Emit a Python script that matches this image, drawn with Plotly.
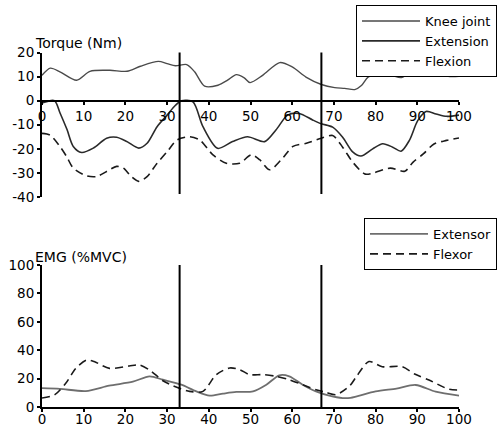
import plotly.graph_objects as go

# ---------------- data ----------------
knee_x = [0, 2, 4.3, 8.3, 11.5, 16.3, 20.4, 23.6, 27.9, 30, 32, 34.7, 36.6, 39, 42.2, 44.5, 46.6, 48.5, 49.9,
          52.9, 57, 60, 63.3, 67, 70.2, 72.6, 75, 76.6, 78.2, 80.6, 83.8, 86.2, 89.4, 91.4, 94.2, 97.4, 100]
knee_y = [10.5, 13.5, 12, 8.5, 12.2, 12.6, 12.2, 14.3, 16.3, 15.4, 14.5, 15, 12, 6, 6.4, 8.5, 10.8, 9.5, 7.5,
          10.5, 15.8, 14, 9.8, 6.7, 5.4, 5.1, 4.6, 6.3, 9.8, 11, 10.5, 9.6, 13.3, 15.4, 11.9, 10.1, 10.1]

ext_x = [0, 3, 4.3, 6, 7.5, 9.5, 12.3, 15.5, 17.9, 20.4, 23.2, 25.2, 27.6, 30, 32, 33.4, 36.2, 38.6, 42.1,
         45.7, 49.3, 53.4, 56.1, 58.9, 61.7, 64.9, 67, 69.7, 72.1, 74.5, 76.5, 79.3, 81.7, 84.1, 86.1, 88.1,
         90.1, 92.1, 94.5, 97, 100]
ext_y = [-1, 0, -5, -12, -19, -21.5, -19.7, -15.6, -15.2, -17, -19.7, -17.7, -10.8, -6, -1.9, 0, -0.5, -10.8,
         -19.8, -17, -15, -17, -12.2, -6, -5.3, -8, -9.6, -11, -15.2, -21.3, -23, -20, -17.9, -19.3, -21, -16.5,
         -8.3, -4.5, -5.5, -6.5, -6]

flex_x = [0, 1.9, 4.3, 5.9, 7.5, 10.7, 13.1, 15.5, 17.9, 19.5, 21.4, 23.2, 25.2, 27.6, 30, 32.4, 35.4, 37.8,
          41, 44.2, 47.4, 50.2, 52.2, 54.6, 57.4, 60.2, 63.4, 67, 69.7, 72.1, 74.5, 77.5, 79.5, 83.5, 87, 89,
          91.5, 94, 97, 100]
flex_y = [-13.6, -14.3, -19, -23.2, -28, -31.2, -31.5, -29.4, -27.3, -28, -31.5, -33.5, -31.5, -26, -21.2,
          -16.3, -15, -16.3, -22.5, -26, -26, -22.5, -24.5, -28.7, -24.5, -19, -17.7, -15.6, -14.5, -19.3,
          -25.5, -30.5, -30, -28, -29.3, -25.5, -22, -18, -16.5, -15.5]

emg_ext_x = [0, 4.3, 10.5, 16.1, 21.8, 25.8, 29, 33.4, 37, 40.2, 43.4, 46.6, 50.6, 53.8, 56.9, 59.3, 62.5,
             65.7, 68.9, 72.1, 74, 80, 85, 89.6, 94.4, 100]
emg_ext_y = [13.3, 12.8, 11.2, 15, 17.8, 21.6, 19.2, 15.7, 11, 8, 9.4, 10.6, 11, 15.7, 22.3, 21.6, 15.7,
             11, 8, 6.3, 6.5, 11, 13, 15.5, 10.8, 8]

emg_flex_x = [0, 3, 5.7, 8.1, 10.7, 12.5, 16.2, 20.9, 23.3, 25.8, 29, 31.4, 35.4, 38.6, 41.8, 45, 47.4,
              49.8, 53, 56.1, 59.3, 62.5, 65.7, 68.1, 70.5, 73.7, 75.3, 78.4, 81.6, 86.3, 89.5, 92.8, 97.6, 100]
emg_flex_y = [6.3, 8.5, 16.7, 27.2, 33, 32, 27.2, 28.9, 29.6, 26, 18.5, 15, 11, 11, 22.8, 27.5, 26.3,
              22.8, 22.8, 21.6, 19.2, 15.7, 12.2, 10.3, 8.7, 14.6, 21, 32, 28.4, 28.4, 23, 19, 12.5, 12]

phase_marks = [33, 67]
x_ticks = [0, 10, 20, 30, 40, 50, 60, 70, 80, 90, 100]
torque_ticks = [20, 10, 0, -10, -20, -30, -40]
emg_ticks = [0, 20, 40, 60, 80, 100]

# ---------------- layout geometry ----------------
W, H = 498, 428
FONT = "DejaVu Sans, Verdana, sans-serif"
x_dom = [42 / W, 459 / W]
top_dom = [1 - 197 / H, 1 - 52.5 / H]
bot_dom = [1 - 407 / H, 1 - 265 / H]
top_range = [-40, 20]
zero_pos = top_dom[0] + (top_dom[1] - top_dom[0]) * (0 - top_range[0]) / (top_range[1] - top_range[0])

fig = go.Figure()
fig.add_trace(go.Scatter(x=knee_x, y=knee_y, mode="lines", name="Knee joint",
                         line=dict(color="#4a4a4a", width=1.4, shape="spline", smoothing=0.8),
                         xaxis="x", yaxis="y", legend="legend"))
fig.add_trace(go.Scatter(x=ext_x, y=ext_y, mode="lines", name="Extension",
                         line=dict(color="#2a2a2a", width=1.6, shape="spline", smoothing=0.8),
                         xaxis="x", yaxis="y", legend="legend"))
fig.add_trace(go.Scatter(x=flex_x, y=flex_y, mode="lines", name="Flexion",
                         line=dict(color="#1a1a1a", width=1.6, dash="8px,5px", shape="spline", smoothing=0.8),
                         xaxis="x", yaxis="y", legend="legend"))
fig.add_trace(go.Scatter(x=emg_ext_x, y=emg_ext_y, mode="lines", name="Extensor",
                         line=dict(color="#6e6e6e", width=1.8, shape="spline", smoothing=0.8),
                         xaxis="x2", yaxis="y2", legend="legend2"))
fig.add_trace(go.Scatter(x=emg_flex_x, y=emg_flex_y, mode="lines", name="Flexor",
                         line=dict(color="#1a1a1a", width=1.6, dash="8px,5px", shape="spline", smoothing=0.8),
                         xaxis="x2", yaxis="y2", legend="legend2"))

for xv in phase_marks:
    fig.add_shape(type="line", xref="x", yref="y", x0=xv, x1=xv, y0=-38.8, y1=20.5,
                  line=dict(color="black", width=2))
    fig.add_shape(type="line", xref="x2", yref="y2", x0=xv, x1=xv, y0=0, y1=101,
                  line=dict(color="black", width=2))

axis_common = dict(showgrid=False, zeroline=False, showline=True, linecolor="black", linewidth=2,
                   ticks="outside", ticklen=3, tickwidth=2, tickcolor="black", automargin=False,
                   tickfont=dict(family=FONT, size=13.5, color="black"))

tick_txt = lambda vals: [str(v) for v in vals]

legend_style = dict(bgcolor="white", bordercolor="black", borderwidth=1,
                    font=dict(family=FONT, size=13, color="black"),
                    tracegroupgap=0, itemwidth=58, xanchor="right", yanchor="top")

fig.update_layout(
    width=W, height=H,
    margin=dict(l=0, r=0, t=0, b=0, autoexpand=False),
    paper_bgcolor="white", plot_bgcolor="white",
    font=dict(family=FONT, size=14, color="black"),
    xaxis=dict(domain=x_dom, range=[0, 100], anchor="free", position=zero_pos,
               tickvals=x_ticks, ticktext=tick_txt(x_ticks), **axis_common),
    yaxis=dict(domain=top_dom, range=top_range, anchor="x",
               tickvals=torque_ticks, ticktext=tick_txt(torque_ticks), **axis_common),
    xaxis2=dict(domain=x_dom, range=[0, 100], anchor="y2", ticklabelstandoff=-4,
                tickvals=x_ticks, ticktext=tick_txt(x_ticks), **axis_common),
    yaxis2=dict(domain=bot_dom, range=[0, 100], anchor="x2",
                tickvals=emg_ticks, ticktext=tick_txt(emg_ticks), **axis_common),
    legend=dict(x=497 / W, y=1 - 5 / H, **legend_style),
    legend2=dict(x=497 / W, y=1 - 218 / H, **legend_style),
    annotations=[
        dict(text="Torque (Nm)", xref="paper", yref="paper", x=33 / W, y=1 - 43 / H,
             xanchor="left", yanchor="middle", showarrow=False,
             font=dict(family=FONT, size=14, color="black")),
        dict(text="EMG (%MVC)", xref="paper", yref="paper", x=33 / W, y=1 - 257 / H,
             xanchor="left", yanchor="middle", showarrow=False,
             font=dict(family=FONT, size=14, color="black")),
    ],
    showlegend=True,
)

fig.write_html("out.html", config={"displayModeBar": False},
               post_script="document.body.style.margin='0';document.body.style.overflow='hidden';")
